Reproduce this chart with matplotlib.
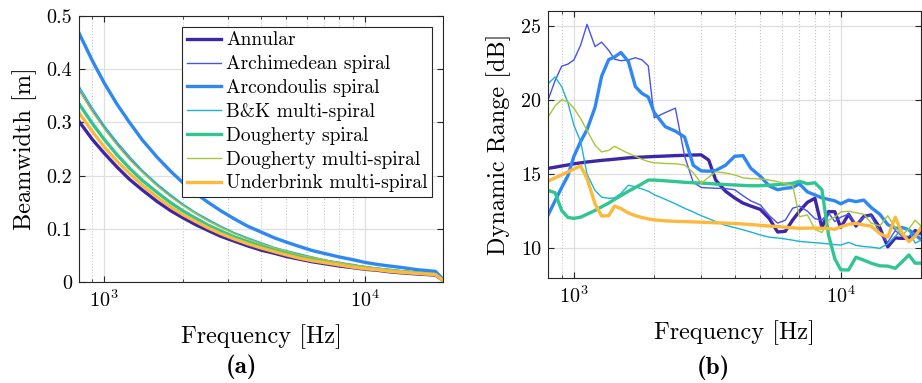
import numpy as np
import matplotlib
matplotlib.use("Agg")
import matplotlib.pyplot as plt
from matplotlib.ticker import FuncFormatter

plt.rcParams['font.family'] = 'serif'
plt.rcParams['font.serif'] = ['cmr10']
plt.rcParams['mathtext.fontset'] = 'cm'
plt.rcParams['axes.formatter.use_mathtext'] = True

names = ["Annular", "Archimedean spiral", "Arcondoulis spiral", "B&K multi-spiral",
         "Dougherty spiral", "Dougherty multi-spiral", "Underbrink multi-spiral"]
colors = ['#3e26a8', '#4752ef', '#2e87f3', '#1cb1d9', '#30c690', '#a6c739', '#fdb93c']
widths = [2.4, 1.0, 2.4, 1.0, 2.4, 1.0, 2.4]

# (a) beamwidth
freq_a = [800, 900, 1000, 1120, 1250, 1400, 1600, 1800, 2000, 2240, 2500, 2800, 3150,
          3550, 4000, 4500, 5000, 5600, 6300, 7100, 8000, 9000, 10000, 11200, 12500,
          14000, 16000, 18700, 20000]
bw_annular = [0.302, 0.268, 0.242, 0.216, 0.193, 0.173, 0.151, 0.134, 0.121, 0.108,
              0.097, 0.086, 0.077, 0.068, 0.060, 0.054, 0.048, 0.043, 0.038, 0.034,
              0.030, 0.027, 0.024, 0.022, 0.019, 0.017, 0.015, 0.013, 0.003]
bw_archimedean = [0.362, 0.322, 0.290, 0.259, 0.232, 0.207, 0.181, 0.161, 0.145, 0.129,
                  0.116, 0.103, 0.092, 0.082, 0.072, 0.064, 0.058, 0.052, 0.046, 0.041,
                  0.036, 0.032, 0.029, 0.026, 0.023, 0.021, 0.018, 0.015, 0.003]
bw_arcondoulis = [0.468, 0.416, 0.374, 0.334, 0.300, 0.267, 0.234, 0.208, 0.187, 0.167,
                  0.150, 0.134, 0.119, 0.105, 0.094, 0.083, 0.075, 0.067, 0.059, 0.053,
                  0.047, 0.042, 0.037, 0.033, 0.030, 0.027, 0.023, 0.020, 0.005]
bw_bk = [0.368, 0.327, 0.294, 0.263, 0.236, 0.210, 0.184, 0.164, 0.147, 0.131,
         0.118, 0.105, 0.093, 0.083, 0.074, 0.065, 0.059, 0.053, 0.047, 0.041,
         0.037, 0.033, 0.029, 0.026, 0.024, 0.021, 0.018, 0.016, 0.003]
bw_dougherty = [0.335, 0.298, 0.268, 0.239, 0.214, 0.191, 0.168, 0.149, 0.134, 0.120,
                0.107, 0.096, 0.085, 0.076, 0.067, 0.060, 0.054, 0.048, 0.043, 0.038,
                0.034, 0.030, 0.027, 0.024, 0.021, 0.019, 0.017, 0.014, 0.003]
bw_dougherty_multi = [0.360, 0.320, 0.288, 0.257, 0.230, 0.206, 0.180, 0.160, 0.144, 0.129,
                      0.115, 0.103, 0.091, 0.081, 0.072, 0.064, 0.058, 0.051, 0.046, 0.041,
                      0.036, 0.032, 0.029, 0.026, 0.023, 0.021, 0.018, 0.015, 0.003]
bw_underbrink = [0.318, 0.283, 0.254, 0.227, 0.204, 0.182, 0.159, 0.141, 0.127, 0.114,
                 0.102, 0.091, 0.081, 0.072, 0.064, 0.057, 0.051, 0.045, 0.040, 0.036,
                 0.032, 0.028, 0.025, 0.023, 0.020, 0.018, 0.016, 0.014, 0.003]

# (b) dynamic range
freq_b = [800, 850, 900, 950, 1000, 1060, 1120, 1200, 1270, 1350, 1420, 1500, 1600,
          1700, 1800, 1900, 2000, 2200, 2400, 2600, 2800, 3000, 3200, 3400, 3700,
          4000, 4300, 4600, 5000, 5400, 5800, 6200, 6600, 7000, 7500, 8000, 8500,
          9000, 9500, 10000, 10700, 11400, 12200, 13000, 14000, 15000, 16000, 17000,
          18000, 19000, 20000]
dr_annular = [15.39, 15.47, 15.55, 15.62, 15.70, 15.76, 15.82, 15.88, 15.93, 15.97,
              16.01, 16.05, 16.10, 16.13, 16.15, 16.17, 16.19, 16.22, 16.25, 16.27,
              16.29, 16.30, 15.95, 14.60, 13.85, 13.40, 13.05, 12.85, 12.62, 12.0,
              11.1, 11.15, 11.9, 12.5, 13.1, 13.37, 11.4, 12.47, 12.47, 11.4,
              12.3, 11.5, 12.15, 12.25, 11.4, 10.1, 10.7, 10.67, 10.67, 11.2, 11.0]
dr_archimedean = [20.0, 21.3, 22.28, 22.42, 22.7, 23.7, 25.1, 23.6, 23.9, 23.35,
                  22.75, 22.65, 22.7, 22.85, 22.7, 22.3, 18.8, 19.15, 19.45, 16.2,
                  14.45, 14.1, 14.07, 14.05, 14.03, 13.95, 13.55, 13.2, 12.92, 12.2,
                  11.7, 11.9, 12.7, 12.85, 12.5, 12.0, 11.9, 12.4, 11.8, 12.1,
                  12.3, 11.6, 12.1, 12.2, 11.0, 10.4, 11.2, 10.8, 10.8, 11.0, 10.9]
dr_arcondoulis = [12.24, 13.2, 14.1, 14.9, 16.2, 17.2, 18.0, 19.5, 21.6, 22.72,
                  22.9, 23.2, 22.6, 20.9, 20.44, 20.2, 19.15, 18.2, 17.9, 17.5,
                  15.6, 15.22, 15.2, 15.25, 15.6, 16.2, 16.25, 15.4, 14.85, 14.2,
                  13.95, 14.05, 14.1, 14.35, 13.8, 13.6, 13.4, 13.3, 13.2, 13.0,
                  13.25, 13.15, 13.25, 12.75, 12.3, 11.6, 11.35, 11.4, 11.25, 10.9, 10.6]
dr_bk = [21.1, 21.55, 20.9, 19.8, 18.3, 17.2, 15.0, 13.9, 13.45, 13.37,
         13.4, 13.7, 14.25, 14.15, 14.0, 13.85, 13.62, 13.3, 13.0, 12.7,
         12.45, 12.2, 12.0, 11.8, 11.55, 11.4, 11.25, 11.1, 10.9, 10.75,
         10.7, 10.63, 10.55, 10.47, 10.42, 10.38, 10.34, 10.3, 10.25, 10.22,
         10.4, 10.2, 10.12, 10.08, 10.0, 10.3, 10.8, 11.35, 11.25, 10.35, 10.55]
dr_dougherty = [13.9, 13.75, 12.55, 12.08, 12.02, 12.1, 12.3, 12.55, 12.8, 13.05,
                13.3, 13.55, 13.85, 14.1, 14.35, 14.6, 14.6, 14.55, 14.5, 14.45,
                14.42, 14.4, 14.37, 14.33, 14.3, 14.27, 14.24, 14.22, 14.22, 14.25,
                14.3, 14.33, 14.38, 14.52, 14.35, 14.42, 13.95, 10.9, 9.3, 8.55,
                8.54, 9.4, 9.2, 9.0, 8.82, 8.8, 8.65, 9.1, 9.55, 9.0, 9.0]
dr_dougherty_multi = [18.85, 19.6, 20.02, 19.88, 19.45, 18.75, 17.95, 16.95, 16.5, 16.6,
                      16.88, 16.65, 16.4, 16.2, 16.0, 15.85, 15.77, 15.72, 15.7, 15.62,
                      15.1, 14.38, 14.8, 15.16, 15.08, 14.95, 14.75, 14.7, 14.68, 14.6,
                      14.5, 14.35, 14.25, 12.13, 12.25, 11.3, 11.06, 11.9, 12.1, 12.45,
                      12.5, 12.4, 12.3, 11.7, 11.5, 12.2, 11.4, 10.9, 11.3, 11.9, 11.5]
dr_underbrink = [14.53, 14.75, 14.95, 15.15, 15.35, 15.55, 14.7, 13.0, 12.18, 12.2,
                 12.85, 12.68, 12.38, 12.2, 12.08, 11.98, 11.92, 11.85, 11.82, 11.8,
                 11.78, 11.76, 11.74, 11.72, 11.7, 11.67, 11.64, 11.6, 11.55, 11.5,
                 11.47, 11.42, 11.38, 11.35, 11.36, 11.37, 11.35, 11.33, 11.28, 11.45,
                 11.62, 11.68, 11.57, 11.5, 11.0, 10.75, 12.1, 11.0, 10.45, 10.8, 11.4]

bw_all = [bw_annular, bw_archimedean, bw_arcondoulis, bw_bk,
          bw_dougherty, bw_dougherty_multi, bw_underbrink]
dr_all = [dr_annular, dr_archimedean, dr_arcondoulis, dr_bk,
          dr_dougherty, dr_dougherty_multi, dr_underbrink]


def style(ax):
    ax.set_xscale('log')
    ax.set_xlim(800, 20000)
    ax.tick_params(which='both', direction='in', top=True, right=True,
                   labelsize=14.5, color='0.15', pad=5)
    ax.tick_params(which='major', length=4)
    ax.tick_params(which='minor', length=2.5)
    ax.grid(True, which='major', color='0.87', lw=0.9)
    ax.grid(True, which='minor', axis='x', color='0.78', ls=':', lw=0.8)
    ax.set_axisbelow(True)
    for s in ax.spines.values():
        s.set_color('0.15')
        s.set_linewidth(0.8)
    ax.yaxis.set_major_formatter(FuncFormatter(lambda v, _: f'{v:g}'))
    ax.set_xlabel('Frequency [Hz]', fontsize=17.5, labelpad=10)


fig = plt.figure(figsize=(9.22, 3.83), dpi=100)
ax1 = fig.add_axes([0.0857, 0.2637, 0.3948, 0.6945])
ax2 = fig.add_axes([0.5944, 0.2742, 0.4046, 0.6971])

for y, n, c, w in zip(bw_all, names, colors, widths):
    ax1.plot(freq_a, y, color=c, lw=w, label=n)
style(ax1)
ax1.set_ylim(0, 0.5)
ax1.set_yticks([0, 0.1, 0.2, 0.3, 0.4, 0.5])
ax1.set_ylabel('Beamwidth [m]', fontsize=17.5, labelpad=7)
leg = ax1.legend(loc='upper right', fontsize=14, fancybox=False, edgecolor='0.15',
                 framealpha=1, handlelength=1.75, handletextpad=0.25,
                 labelspacing=0.3, borderpad=0.25, borderaxespad=0.55)
leg.get_frame().set_linewidth(0.8)

for y, n, c, w in zip(dr_all, names, colors, widths):
    ax2.plot(freq_b, y, color=c, lw=w, label=n)
style(ax2)
ax2.set_ylim(8, 26)
ax2.set_yticks([10, 15, 20, 25])
ax2.set_ylabel('Dynamic Range [dB]', fontsize=17.5, labelpad=7)

fig.text(241 / 922, 1 - 367 / 383, '(a)', fontsize=18, family='cmb10', ha='center', va='center')
fig.text(713 / 922, 1 - 368 / 383, '(b)', fontsize=18, family='cmb10', ha='center', va='center')

fig.savefig('out.png', dpi=100)
